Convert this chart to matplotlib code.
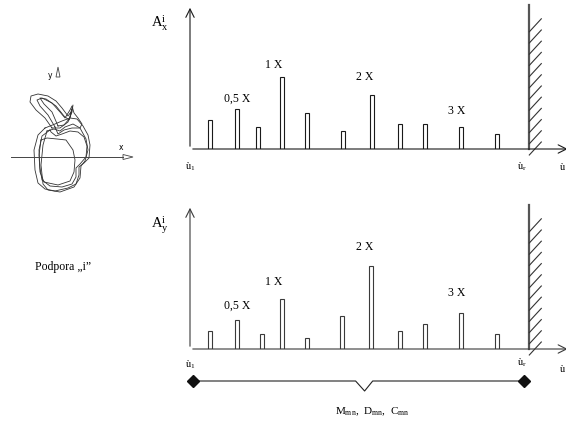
import matplotlib
matplotlib.use("Agg")
import matplotlib.pyplot as plt
import numpy as np
from matplotlib.patches import Polygon

plt.rcParams['font.family'] = ['Liberation Serif', 'DejaVu Serif']
plt.rcParams['mathtext.fontset'] = 'custom'
plt.rcParams['mathtext.rm'] = 'Liberation Serif'
plt.rcParams['mathtext.it'] = 'Liberation Serif'

# spectrum lines, frequency in multiples of running speed (X)
freq_x = [0.22, 0.52, 0.76, 1.02, 1.30, 1.70, 2.02, 2.33, 2.61, 3.01, 3.41]
amp_x = [29, 40, 22, 72, 36, 18, 54, 25, 25, 22, 15]
freq_y = [0.22, 0.52, 0.80, 1.02, 1.30, 1.69, 2.01, 2.33, 2.61, 3.01, 3.41]
amp_y = [18, 29, 15, 50, 11, 33, 83, 18, 25, 36, 15]

harm_labels = ['0,5 X', '1 X', '2 X', '3 X']
harm_pos_x = [(0.52, 50), (0.93, 84), (1.94, 72), (2.96, 38)]
harm_pos_y = [(0.52, 43), (0.93, 67), (1.94, 102), (2.96, 56)]

f_rated = 3.77   # u_r, wall position
f_max = 376 / 90.0

# orbit of support "i" (traced loops)
orbit_loops = [
    ([45, 38, 34, 35, 38, 45, 55, 68, 76, 79, 79, 84, 89, 90, 88, 83, 77, 70, 62, 55, 50, 45],
     [128, 135, 150, 170, 183, 189, 191, 188, 184, 175, 167, 163, 158, 145, 135, 126, 119, 118, 121, 124, 126, 128]),
    ([50, 42, 39, 40, 42, 50, 62, 72, 76, 76, 80, 86, 87, 84, 78, 70, 62, 56, 51, 50],
     [130, 136, 150, 168, 180, 186, 187, 184, 177, 168, 164, 157, 146, 137, 132, 131, 134, 136, 132, 130]),
    ([52, 45, 36, 30, 31, 38, 48, 56, 62, 68, 71, 73, 72, 68, 60, 52],
     [128, 118, 110, 102, 96, 94, 96, 101, 108, 116, 112, 105, 112, 122, 128, 128]),
    ([55, 48, 40, 37, 42, 52, 60, 65, 70, 72, 74, 78, 82, 80, 72, 64, 58, 55],
     [127, 115, 106, 100, 98, 103, 112, 118, 110, 106, 113, 118, 124, 128, 128, 130, 134, 127]),
    ([41, 39, 40, 44, 58, 70, 74, 75, 73, 66, 57, 47, 41],
     [140, 155, 172, 182, 185, 181, 172, 160, 150, 140, 139, 138, 140]),
    ([47, 43, 41, 43, 48, 60, 74, 80, 81, 85, 88, 86, 80, 73, 65, 60, 54, 47],
     [131, 145, 165, 184, 190, 192, 187, 178, 166, 161, 150, 139, 128, 124, 127, 131, 129, 131]),
    ([58, 52, 44, 40, 46, 56, 64, 69, 72, 70, 64, 58],
     [126, 112, 104, 98, 99, 106, 116, 120, 109, 118, 125, 126]),
]

W, H = 566, 422
fig = plt.figure(figsize=(W / 100, H / 100), dpi=100)

# ---- left: orbit sketch ----
axo = fig.add_axes([0, 0, 170 / W, 1])
axo.set_xlim(0, 170)
axo.set_ylim(H, 0)
axo.axis('off')
for xs, ys in orbit_loops:
    axo.plot(xs, ys, color='#333333', lw=0.6)
axo.plot([11, 123], [157, 157], color='#444444', lw=0.7)
axo.add_patch(Polygon([[123, 154.5], [133, 157], [123, 159.5]], closed=True,
                      facecolor='white', edgecolor='#444444', lw=0.6))
axo.add_patch(Polygon([[56, 77], [58, 67], [60, 77]], closed=True,
                      facecolor='white', edgecolor='#444444', lw=0.6))
axo.text(121, 148, 'x', family='DejaVu Sans', fontsize=5.5, ha='center', va='center')
axo.text(50, 75, 'y', family='DejaVu Sans', fontsize=5.5, ha='center', va='center')
axo.text(63, 267, 'Podpora \u201ei\u201d', fontsize=8.5, ha='center', va='center')


def spectrum(ax, freqs, amps, lab_pos, col, sym, sym_y, top_h, hatch_top):
    ax.set_xlim(0, f_max)
    ax.set_ylim(0, top_h)
    ax.axis('off')
    ax.bar(freqs, amps, width=4 / 90.0, facecolor='white', edgecolor=col, lw=0.8)
    ax.annotate('', xy=(0, top_h - 1), xytext=(0, 0),
                arrowprops=dict(arrowstyle='->,head_length=0.6,head_width=0.3', lw=0.8, color=col))
    ax.annotate('', xy=(f_max + 0.05, 0), xytext=(0, 0), annotation_clip=False,
                arrowprops=dict(arrowstyle='->,head_length=0.6,head_width=0.3', lw=0.8, color=col))
    # rated speed wall with hatching
    ax.plot([f_rated, f_rated], [0, top_h - 1], color='#555555', lw=1.6, clip_on=False)
    for y0 in np.arange(-6, hatch_top, 11.2):
        ax.plot([f_rated, f_rated + 12 / 90.0], [y0, y0 + 13], color='#333333', lw=0.8,
                clip_on=False)
    for lab, (fx, fy) in zip(harm_labels, lab_pos):
        ax.text(fx, fy, lab, fontsize=8.5, ha='center', va='center')
    ax.text(-0.33, sym_y, sym, fontsize=10.5, ha='center', va='center')


ax1 = fig.add_axes([190 / W, (H - 149) / H, 376 / W, 145 / H])
spectrum(ax1, freq_x, amp_x, harm_pos_x, '#1a1a1a', r'$\mathrm{A}_{x}^{i}$', 126, 145, 125)
ax1.text(0.0, -18, '\u00f9$_{1}$', fontsize=7.5, ha='center', va='center', clip_on=False)
ax1.text(3.69, -18, '\u00f9$_{r}$', fontsize=7.5, ha='center', va='center', clip_on=False)
ax1.text(4.14, -18, '\u00f9', fontsize=7.5, ha='center', va='center', clip_on=False)

ax2 = fig.add_axes([190 / W, (H - 349) / H, 376 / W, 145 / H])
spectrum(ax2, freq_y, amp_y, harm_pos_y, '#3a3a3a', r'$\mathrm{A}_{y}^{i}$', 124, 145, 125)
ax2.text(0.0, -16, '\u00f9$_{1}$', fontsize=7.5, ha='center', va='center', clip_on=False)
ax2.text(3.69, -14, '\u00f9$_{r}$', fontsize=7.5, ha='center', va='center', clip_on=False)
ax2.text(4.14, -21, '\u00f9', fontsize=7.5, ha='center', va='center', clip_on=False)

# bracket for the speed range u_1 .. u_r
yb = -32
ax2.plot([0.033, 1.84, 1.94, 2.03, 3.71], [yb, yb, yb - 10, yb, yb], color='#222222', lw=0.8,
         clip_on=False)
ax2.plot([0.033, 3.71], [yb, yb], 'D', color='#111111', ms=6, clip_on=False)
ax2.text(2.02, -63, r'M$_{\mathrm{mn}}$,  D$_{\mathrm{mn}}$,  C$_{\mathrm{mn}}$', fontsize=8,
         ha='center', va='center', clip_on=False)

fig.savefig('out.png', dpi=100)
